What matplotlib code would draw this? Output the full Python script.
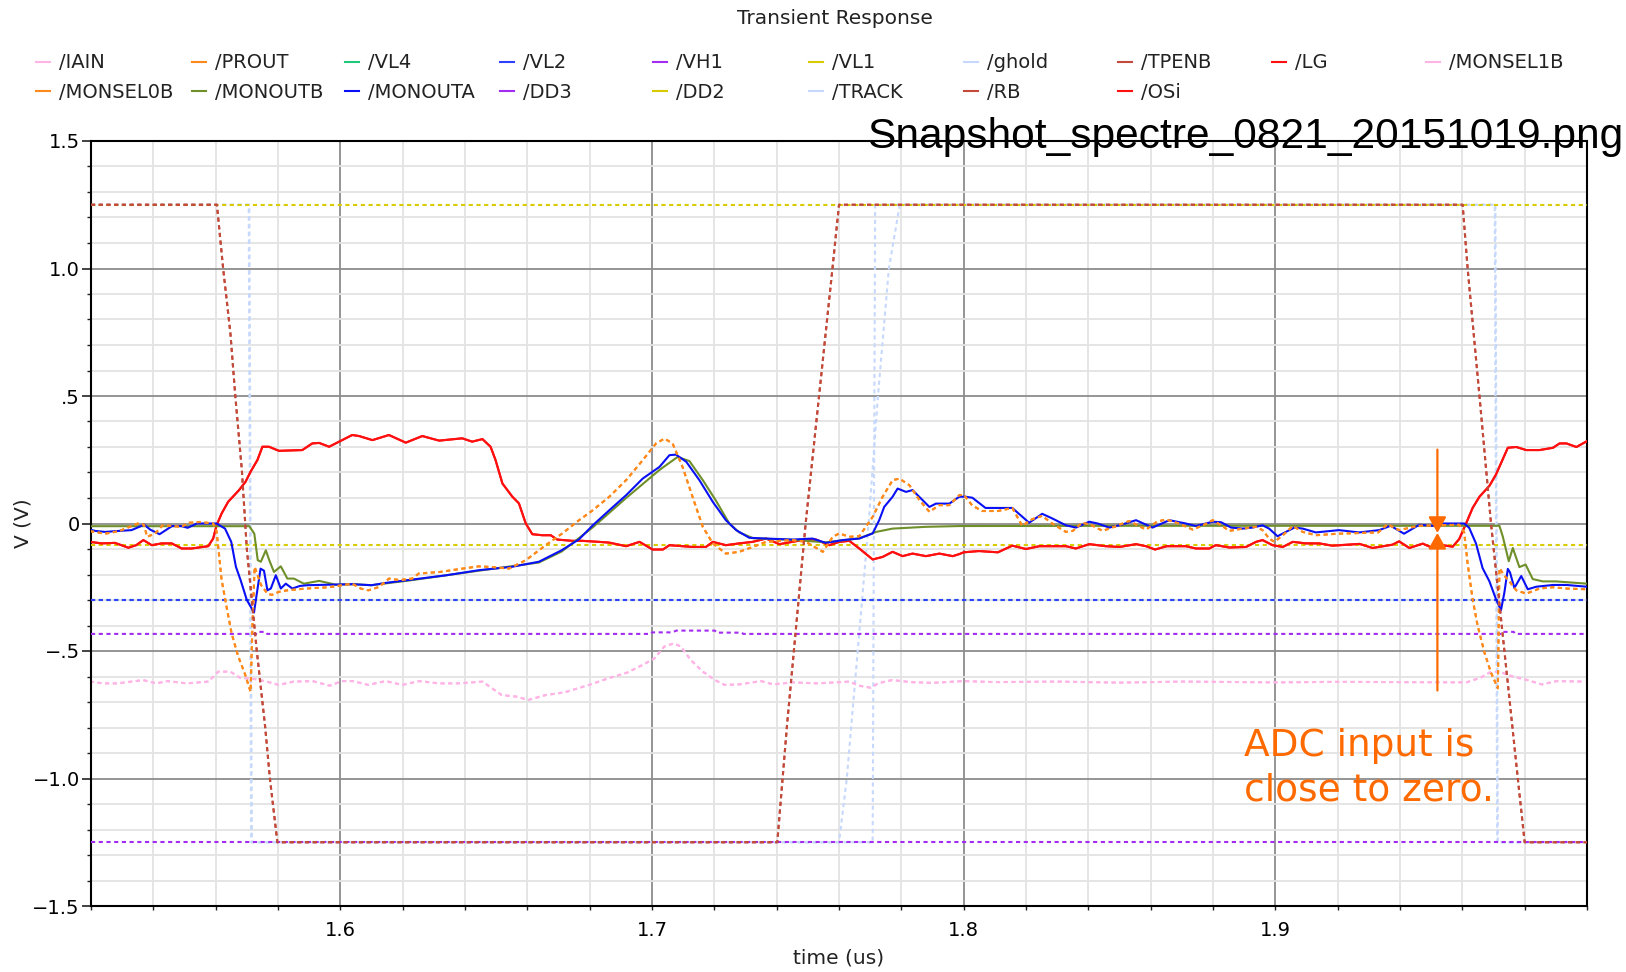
import matplotlib
matplotlib.use("Agg")
import matplotlib.pyplot as plt
from matplotlib.lines import Line2D
from matplotlib.patches import ArrowStyle

# ---------------- data ----------------
monouta_t = [1.5197,1.5213,1.5245,1.529,1.533,1.5355,1.537,1.539,1.542,1.544,1.546,1.549,1.551,1.554,1.5603,1.563,1.565,1.5665,1.568,1.570,1.5723,1.5744,1.5755,1.5766,1.5777,1.5793,1.5809,1.5825,1.5846,1.587,1.5894,1.5964,1.6038,1.610,1.6145,1.623,1.634,1.6445,1.655,1.6637,1.671,1.6766,1.681,1.6863,1.6917,1.697,1.7024,1.7056,1.7077,1.711,1.7152,1.7195,1.7237,1.727,1.7312,1.7366,1.7451,1.7515,1.7558,1.7612,1.7665,1.7708,1.7729,1.7745,1.7772,1.7788,1.7815,1.7836,1.789,1.7911,1.7954,1.7986,1.8006,1.8028,1.807,1.8156,1.821,1.8252,1.8284,1.8328,1.836,1.8403,1.843,1.8467,1.85,1.8553,1.8606,1.866,1.8713,1.8745,1.8799,1.8826,1.8858,1.8895,1.8927,1.8959,1.898,1.9007,1.9034,1.9061,1.9088,1.913,1.9204,1.9269,1.9333,1.937,1.9413,1.9462,1.9505,1.9537,1.9606,1.9622,1.9644,1.9665,1.9687,1.9708,1.9724,1.9735,1.9746,1.9753,1.9767,1.9789,1.981,1.9837,1.9891,1.9934,2.0]
monouta_v = [-0.024,-0.029,-0.033,-0.029,-0.026,-0.013,-0.004,-0.024,-0.042,-0.026,-0.01,-0.01,-0.017,0.0,0.0,-0.02,-0.072,-0.17,-0.222,-0.30,-0.349,-0.177,-0.185,-0.262,-0.255,-0.203,-0.255,-0.236,-0.255,-0.245,-0.242,-0.24,-0.238,-0.242,-0.233,-0.22,-0.203,-0.183,-0.17,-0.15,-0.105,-0.062,-0.007,0.052,0.111,0.176,0.222,0.268,0.27,0.242,0.17,0.085,0.013,-0.026,-0.056,-0.059,-0.063,-0.059,-0.076,-0.065,-0.059,-0.039,0.013,0.065,0.105,0.137,0.124,0.131,0.065,0.078,0.078,0.105,0.105,0.101,0.061,0.061,0.003,0.038,0.02,-0.007,-0.016,0.007,0.0,-0.016,-0.007,0.013,-0.016,0.013,0.0,-0.01,0.007,0.005,-0.016,-0.02,-0.016,-0.007,-0.02,-0.05,-0.033,-0.016,-0.02,-0.035,-0.026,-0.035,-0.026,-0.009,-0.04,-0.005,-0.009,0.0,0.0,-0.017,-0.079,-0.175,-0.227,-0.297,-0.34,-0.27,-0.178,-0.192,-0.253,-0.206,-0.258,-0.248,-0.241,-0.241,-0.248]

monoutb_t = [1.52,1.5708,1.5724,1.5735,1.5745,1.5761,1.5772,1.5787,1.5809,1.583,1.5851,1.5883,1.5932,1.5985,1.604,1.61,1.623,1.6445,1.6637,1.671,1.681,1.6917,1.7024,1.7082,1.712,1.7163,1.7205,1.7248,1.728,1.7325,1.7451,1.7558,1.7665,1.7719,1.7772,1.7879,1.7986,1.85,1.9719,1.973,1.9749,1.9762,1.9783,1.9803,1.9826,1.9858,1.99,2.0]
monoutb_v = [-0.0105,-0.0105,-0.04,-0.144,-0.15,-0.105,-0.144,-0.19,-0.168,-0.216,-0.216,-0.236,-0.225,-0.24,-0.238,-0.242,-0.222,-0.185,-0.153,-0.11,-0.015,0.10,0.21,0.261,0.245,0.17,0.09,0.0,-0.035,-0.058,-0.064,-0.074,-0.058,-0.033,-0.02,-0.013,-0.01,-0.009,-0.009,-0.052,-0.148,-0.096,-0.171,-0.161,-0.218,-0.227,-0.227,-0.236]

prout_t = [1.5197,1.5245,1.529,1.535,1.537,1.538,1.5405,1.543,1.546,1.549,1.5515,1.555,1.5592,1.5603,1.5608,1.5619,1.5635,1.5651,1.5672,1.5694,1.5712,1.5718,1.5725,1.5745,1.5766,1.578,1.5803,1.583,1.589,1.5964,1.6038,1.6065,1.609,1.6124,1.6156,1.619,1.623,1.6252,1.632,1.6391,1.6445,1.649,1.6541,1.6595,1.6659,1.6712,1.6766,1.681,1.6863,1.6917,1.697,1.7013,1.704,1.7066,1.7098,1.713,1.7163,1.7195,1.7237,1.728,1.7323,1.7366,1.745,1.7494,1.7548,1.758,1.7601,1.7633,1.7665,1.7708,1.774,1.7772,1.7794,1.7826,1.7858,1.789,1.7922,1.7954,1.7986,1.8,1.8028,1.806,1.811,1.8156,1.8188,1.822,1.8252,1.8284,1.8328,1.835,1.838,1.8408,1.8446,1.849,1.8531,1.8585,1.862,1.8649,1.869,1.8735,1.878,1.8799,1.883,1.8852,1.8895,1.8938,1.8959,1.898,1.8997,1.9024,1.9056,1.9088,1.913,1.920,1.933,1.936,1.9397,1.943,1.9462,1.959,1.9606,1.9617,1.9633,1.9649,1.9671,1.9692,1.9714,1.9719,1.9735,1.9751,1.9773,1.9805,1.9848,1.989,1.9934,2.0]
prout_v = [-0.03,-0.04,-0.03,0.0,-0.005,-0.052,-0.04,-0.007,-0.01,-0.013,0.003,0.006,0.0,-0.03,-0.09,-0.22,-0.327,-0.43,-0.52,-0.59,-0.66,-0.4,-0.17,-0.24,-0.275,-0.28,-0.268,-0.262,-0.255,-0.25,-0.236,-0.255,-0.262,-0.249,-0.216,-0.222,-0.216,-0.196,-0.19,-0.177,-0.168,-0.171,-0.177,-0.144,-0.085,-0.039,0.013,0.052,0.105,0.17,0.248,0.314,0.333,0.314,0.222,0.105,-0.013,-0.078,-0.118,-0.111,-0.092,-0.072,-0.065,-0.072,-0.111,-0.052,-0.039,-0.052,-0.05,0.026,0.105,0.17,0.176,0.15,0.092,0.046,0.072,0.072,0.111,0.113,0.07,0.049,0.049,0.061,-0.009,0.017,0.03,0.0,-0.033,-0.029,0.003,-0.005,-0.029,-0.01,0.01,-0.024,0.007,0.016,0.0,-0.024,0.0,0.013,-0.01,-0.029,-0.02,-0.013,-0.026,-0.059,-0.072,-0.046,-0.01,-0.033,-0.046,-0.04,-0.035,-0.003,-0.026,-0.017,-0.009,-0.005,-0.035,-0.157,-0.297,-0.40,-0.506,-0.585,-0.646,-0.175,-0.205,-0.227,-0.262,-0.275,-0.255,-0.25,-0.255,-0.258]

osi_t = [1.5197,1.5234,1.5277,1.532,1.5345,1.5368,1.5395,1.5427,1.5459,1.5491,1.5523,1.5576,1.5592,1.5603,1.5619,1.564,1.5675,1.5696,1.5712,1.5734,1.575,1.5771,1.5803,1.5878,1.591,1.5932,1.5964,1.5996,1.6038,1.606,1.6103,1.6156,1.621,1.6263,1.6317,1.6391,1.6423,1.6456,1.6482,1.6498,1.652,1.6552,1.6573,1.6595,1.6616,1.6648,1.6675,1.6696,1.6744,1.6776,1.683,1.6863,1.6917,1.696,1.7002,1.7035,1.7056,1.713,1.7173,1.7195,1.7237,1.728,1.7323,1.7366,1.7409,1.745,1.7494,1.7526,1.7569,1.7601,1.7633,1.7665,1.7708,1.774,1.7772,1.7804,1.7836,1.7879,1.7922,1.7965,1.7986,1.8,1.8049,1.811,1.8156,1.82,1.8243,1.8328,1.836,1.8403,1.8456,1.85,1.8553,1.8585,1.8614,1.8652,1.8713,1.8745,1.8788,1.8809,1.8852,1.8906,1.8938,1.8959,1.8991,1.9024,1.9056,1.9098,1.9141,1.9183,1.927,1.9312,1.9376,1.9397,1.943,1.9473,1.9505,1.9537,1.9569,1.959,1.9612,1.9633,1.9655,1.9687,1.9708,1.973,1.9746,1.9773,1.9805,1.9848,1.9891,1.9912,1.9934,1.9966,2.0]
osi_v = [-0.072,-0.078,-0.076,-0.095,-0.085,-0.065,-0.085,-0.078,-0.078,-0.098,-0.098,-0.089,-0.059,-0.007,0.039,0.085,0.131,0.164,0.203,0.249,0.301,0.301,0.285,0.288,0.314,0.316,0.301,0.321,0.347,0.343,0.327,0.347,0.317,0.343,0.325,0.334,0.321,0.331,0.301,0.249,0.157,0.105,0.079,0.0,-0.042,-0.046,-0.046,-0.063,-0.068,-0.068,-0.072,-0.075,-0.089,-0.072,-0.102,-0.102,-0.085,-0.092,-0.092,-0.072,-0.085,-0.078,-0.072,-0.059,-0.081,-0.072,-0.063,-0.063,-0.085,-0.072,-0.068,-0.098,-0.141,-0.131,-0.111,-0.128,-0.118,-0.128,-0.118,-0.128,-0.12,-0.113,-0.108,-0.113,-0.087,-0.1,-0.089,-0.089,-0.098,-0.081,-0.089,-0.092,-0.081,-0.089,-0.102,-0.089,-0.089,-0.098,-0.098,-0.085,-0.094,-0.092,-0.072,-0.065,-0.085,-0.092,-0.072,-0.078,-0.078,-0.087,-0.08,-0.096,-0.083,-0.07,-0.096,-0.079,-0.096,-0.085,-0.091,-0.061,0.0,0.061,0.105,0.148,0.192,0.253,0.297,0.3,0.288,0.288,0.297,0.314,0.314,0.3,0.323]

iain_t = [1.5196,1.524,1.5285,1.5367,1.541,1.5445,1.5507,1.5577,1.5608,1.5647,1.5678,1.5725,1.5764,1.5802,1.585,1.5911,1.5966,1.6005,1.604,1.609,1.6145,1.6199,1.6253,1.6316,1.6378,1.6456,1.6518,1.6565,1.6603,1.6658,1.672,1.6798,1.686,1.6922,1.6969,1.7008,1.7039,1.707,1.7093,1.7124,1.7163,1.7202,1.7233,1.728,1.735,1.7389,1.745,1.753,1.7634,1.7664,1.7702,1.7725,1.777,1.783,1.79,1.7997,1.81,1.83,1.85,1.87,1.9,1.92,1.94,1.9613,1.9658,1.9688,1.9718,1.9764,1.9809,1.9855,1.9903,1.9994]
iain_v = [-0.62,-0.627,-0.627,-0.614,-0.627,-0.618,-0.627,-0.62,-0.581,-0.581,-0.605,-0.61,-0.62,-0.633,-0.62,-0.618,-0.636,-0.618,-0.618,-0.633,-0.618,-0.633,-0.618,-0.627,-0.627,-0.62,-0.673,-0.679,-0.692,-0.673,-0.662,-0.633,-0.607,-0.584,-0.555,-0.529,-0.483,-0.47,-0.483,-0.535,-0.581,-0.614,-0.633,-0.631,-0.618,-0.631,-0.623,-0.627,-0.62,-0.636,-0.644,-0.627,-0.614,-0.622,-0.625,-0.618,-0.622,-0.62,-0.624,-0.62,-0.623,-0.621,-0.622,-0.623,-0.605,-0.584,-0.581,-0.601,-0.614,-0.631,-0.618,-0.62]

vh1_t = [1.52,1.5733,1.5737,1.576,1.5765,1.6995,1.7,1.7065,1.7078,1.7202,1.7207,1.7288,1.7293,1.9725,1.9728,1.9765,1.977,2.0]
vh1_v = [-0.433,-0.433,-0.425,-0.425,-0.433,-0.433,-0.427,-0.427,-0.42,-0.42,-0.428,-0.428,-0.433,-0.433,-0.425,-0.425,-0.433,-0.433]

tpenb_t = [1.52,1.5604,1.5624,1.5647,1.5663,1.5684,1.5700,1.5732,1.5759,1.5774,1.5798,1.7402,1.7434,1.7493,1.7536,1.7579,1.760,1.9601,1.9617,1.9655,1.9692,1.9735,1.9778,1.980,2.0]
tpenb_v = [1.25,1.25,1.0,0.75,0.5,0.21,-0.1,-0.5,-0.8,-1.0,-1.25,-1.25,-0.78,0.0,0.5,1.0,1.25,1.25,1.0,0.5,0.0,-0.5,-1.0,-1.25,-1.25]

ghold_t = [1.52,1.5708,1.5716,1.7708,1.7716,1.9706,1.9714,2.0]
ghold_v = [1.25,1.25,-1.25,-1.25,1.25,1.25,-1.25,-1.25]

track_t = [1.52,1.5706,1.5714,1.760,1.7625,1.766,1.7695,1.7725,1.776,1.7795,1.9704,1.9712,2.0]
track_v = [1.25,1.25,-1.25,-1.25,-1.0,-0.5,0.0,0.5,1.0,1.25,1.25,-1.25,-1.25]

vl1_level = 1.25
dd2_level = -0.085
vl2_level = -0.30
vl4_level = -0.30
dd3_level = -1.25
t_span = [1.52, 2.0]

adc_arrow_t = 1.952
adc_arrow_top = 0.29
adc_arrow_bottom = -0.655
adc_arrow_meet = -0.037

x_major = [1.6, 1.7, 1.8, 1.9]
x_major_labels = ["1.6", "1.7", "1.8", "1.9"]
y_major = [-1.5, -1.0, -0.5, 0.0, 0.5, 1.0, 1.5]
y_major_labels = ["\u22121.5", "\u22121.0", "\u2212.5", "0", ".5", "1.0", "1.5"]

# ---------------- style ----------------
C = {
    "IAIN": "#ffb4e6", "MONSEL1B": "#ffb4e6",
    "PROUT": "#ff8a1c", "MONSEL0B": "#ff8a1c",
    "VL4": "#1ec878", "VL2": "#2f40ff",
    "VH1": "#a22cf0", "DD3": "#a22cf0",
    "VL1": "#d8cc00", "DD2": "#d8cc00",
    "ghold": "#c6d8fb", "TRACK": "#c6d8fb",
    "TPENB": "#c24a3a", "RB": "#c24a3a",
    "LG": "#ff1010", "OSi": "#ff1010",
    "MONOUTB": "#6e8f2a", "MONOUTA": "#0a10f5",
}
DOT = (0, (2, 1.7))

W, H = 1626, 972
fig = plt.figure(figsize=(W / 100, H / 100), dpi=100)
ax = fig.add_axes([91 / W, (H - 906) / H, (1587 - 91) / W, (906 - 141) / H])

lw = 1.5
ax.plot(ghold_t, ghold_v, color=C["ghold"], lw=lw, ls=DOT, zorder=2)
ax.plot(track_t, track_v, color=C["TRACK"], lw=lw, ls=DOT, zorder=2)
ax.plot(iain_t, iain_v, color=C["MONSEL1B"], lw=lw, ls=DOT, zorder=2)
ax.plot(iain_t, iain_v, color=C["IAIN"], lw=lw, ls=DOT, zorder=2)
ax.plot(t_span, [vl4_level] * 2, color=C["VL4"], lw=lw, ls=DOT, zorder=2)
ax.plot(t_span, [vl2_level] * 2, color=C["VL2"], lw=lw, ls=DOT, zorder=3)
ax.plot(vh1_t, vh1_v, color=C["VH1"], lw=lw, ls=DOT, zorder=3)
ax.plot(t_span, [dd3_level] * 2, color=C["DD3"], lw=lw, ls=DOT, zorder=3)
ax.plot(t_span, [dd2_level] * 2, color=C["DD2"], lw=lw, ls=DOT, zorder=3)
ax.plot(t_span, [vl1_level] * 2, color=C["VL1"], lw=lw, ls=DOT, zorder=3)
ax.plot(osi_t, osi_v, color=C["LG"], lw=lw, zorder=4)
ax.plot(osi_t, osi_v, color=C["OSi"], lw=lw, zorder=4)
ax.plot(monoutb_t, monoutb_v, color=C["MONOUTB"], lw=lw, zorder=5)
ax.plot(monouta_t, monouta_v, color=C["MONOUTA"], lw=lw, zorder=6)
ax.plot(prout_t, prout_v, color=C["MONSEL0B"], lw=lw, ls=DOT, zorder=7)
ax.plot(prout_t, prout_v, color=C["PROUT"], lw=lw, ls=DOT, zorder=7)
ax.plot(tpenb_t, tpenb_v, color=C["RB"], lw=lw, ls=DOT, zorder=8)
ax.plot(tpenb_t, tpenb_v, color=C["TPENB"], lw=lw, ls=DOT, zorder=8)

# arrows
ast = ArrowStyle("-|>", head_length=0.8, head_width=0.45)
for y0 in (adc_arrow_top, adc_arrow_bottom):
    ax.annotate("", xy=(adc_arrow_t, adc_arrow_meet), xytext=(adc_arrow_t, y0),
                arrowprops=dict(arrowstyle=ast, color="#ff6a00", lw=1.6,
                                mutation_scale=12, shrinkA=0, shrinkB=0),
                zorder=10)

ax.set_xlim(1.52, 2.0)
ax.set_ylim(-1.5, 1.5)
ax.set_xticks(x_major, x_major_labels)
ax.set_xticks([1.52 + 0.02 * i for i in range(25)], minor=True)
ax.set_yticks(y_major, y_major_labels)
ax.set_yticks([-1.5 + 0.1 * i for i in range(31)], minor=True)
ax.grid(which="minor", color="#e3e3e3", lw=1.3, zorder=0)
ax.grid(which="major", color="#8c8c8c", lw=1.3, zorder=1)
ax.set_axisbelow(True)
ax.tick_params(axis="y", which="major", length=6.5, width=1.2, labelsize=14, pad=1.5, color="#222222")
ax.tick_params(axis="y", which="minor", length=3, width=1.0, color="#222222")
ax.tick_params(axis="x", which="both", length=3, width=1.0, labelsize=14, pad=8, color="#222222")
for s in ax.spines.values():
    s.set_color("black")
    s.set_linewidth(1.5)

ax.set_xlabel("time (us)", fontsize=14.5, color="#222222")
ax.xaxis.set_label_coords(0.5, (906 - 948) / 765)
ax.set_ylabel("V (V)", fontsize=14.5, color="#222222")
ax.yaxis.set_label_coords((32 - 91) / 1496, 0.5)

# texts
fig.text(835 / W, 1 - 18 / H, "Transient Response", ha="center", va="center", fontsize=14.5, color="#222222")
fig.text(1623 / W, 1 - 148 / H, "Snapshot_spectre_0821_20151019.png", ha="right", va="baseline",
         fontsize=30.6, family="Liberation Sans", color="black")
fig.text(1244 / W, 1 - 756 / H, "ADC input is", ha="left", va="baseline", fontsize=27, color="#ff6a00")
fig.text(1244 / W, 1 - 800 / H, "close to zero.", ha="left", va="baseline", fontsize=27, color="#ff6a00")

# legend (10 columns, 2 rows)
columns = [["IAIN", "MONSEL0B"], ["PROUT", "MONOUTB"], ["VL4", "MONOUTA"], ["VL2", "DD3"],
           ["VH1", "DD2"], ["VL1", "TRACK"], ["ghold", "RB"], ["TPENB", "OSi"], ["LG"], ["MONSEL1B"]]
col_x = [36, 192, 345, 500, 653, 809, 964, 1118, 1272, 1426]
for names, x in zip(columns, col_x):
    handles = [Line2D([], [], color=C[n], lw=1.5) for n in names]
    leg = fig.legend(handles, ["/" + n for n in names], loc="upper left",
                     bbox_to_anchor=(x / W, 1 - 53.5 / H), frameon=False, fontsize=14,
                     handlelength=0.7, handletextpad=0.5, labelspacing=0.55,
                     borderpad=0, borderaxespad=0)
    for t in leg.get_texts():
        t.set_color("#222222")

fig.savefig("out.png", dpi=100)
